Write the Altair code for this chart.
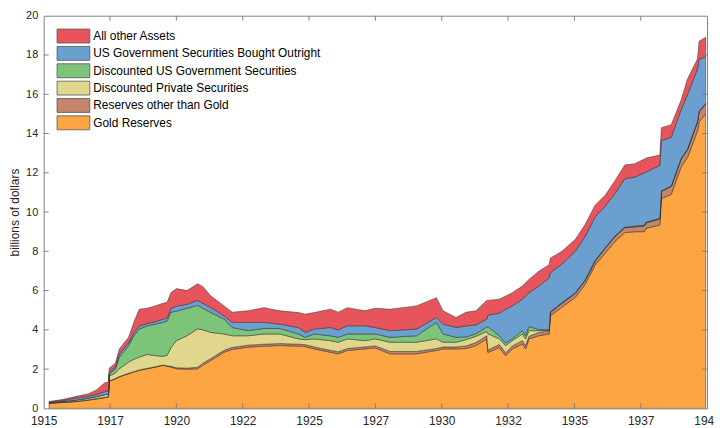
import altair as alt
import pandas as pd

# Decimal year of each reading
years = [1915.20, 1915.70, 1916.20, 1916.70, 1917.00, 1917.30, 1917.44, 1917.47, 1917.70, 1917.85,
         1918.20, 1918.40, 1918.60, 1918.90, 1919.20, 1919.50, 1919.65, 1919.80, 1920.00, 1920.40,
         1920.80, 1921.00, 1921.30, 1921.80, 1922.10, 1922.70, 1923.30, 1923.90, 1924.60, 1924.85,
         1925.20, 1925.80, 1926.10, 1926.45, 1927.10, 1927.50, 1928.05, 1929.05, 1929.80, 1930.05,
         1930.54, 1930.92, 1931.29, 1931.70, 1931.74, 1932.17, 1932.41, 1932.66, 1933.04, 1933.16,
         1933.29, 1933.66, 1934.05, 1934.09, 1934.53, 1935.03, 1935.40, 1935.78, 1936.16, 1936.53,
         1936.90, 1937.28, 1937.64, 1937.70, 1938.22, 1938.28, 1938.65, 1939.02, 1939.27, 1939.64,
         1939.70, 1939.95]

# billions of dollars
gold_reserves = [0.25, 0.30, 0.34, 0.42, 0.48, 0.55, 0.58, 1.38, 1.50, 1.60,
                 1.77, 1.85, 1.94, 2.02, 2.10, 2.19, 2.15, 2.10, 2.02, 2.00,
                 2.02, 2.20, 2.44, 2.86, 3.00, 3.12, 3.17, 3.20, 3.17, 3.15,
                 3.03, 2.86, 2.78, 2.95, 3.03, 3.08, 2.78, 2.78, 2.95, 3.03,
                 3.03, 3.05, 3.20, 3.54, 2.85, 3.10, 2.69, 3.03, 3.28, 3.03,
                 3.54, 3.70, 3.79, 4.71, 5.15, 5.65, 6.30, 7.30, 7.90, 8.50,
                 8.95, 9.00, 9.00, 9.17, 9.34, 10.69, 10.90, 12.29, 12.80, 14.14,
                 14.60, 15.00]
other_reserves = [0.02, 0.02, 0.02, 0.02, 0.02, 0.02, 0.02, 0.02, 0.02, 0.02,
                  0.02, 0.02, 0.02, 0.02, 0.02, 0.02, 0.02, 0.05, 0.05, 0.05,
                  0.08, 0.10, 0.10, 0.10, 0.10, 0.10, 0.10, 0.10, 0.10, 0.10,
                  0.10, 0.10, 0.10, 0.10, 0.10, 0.10, 0.12, 0.12, 0.10, 0.10,
                  0.10, 0.13, 0.15, 0.16, 0.12, 0.15, 0.14, 0.15, 0.17, 0.17,
                  0.13, 0.17, 0.17, 0.17, 0.20, 0.20, 0.20, 0.20, 0.25, 0.25,
                  0.25, 0.25, 0.30, 0.28, 0.31, 0.36, 0.40, 0.41, 0.40, 0.46,
                  0.50, 0.50]
discounted_private = [0.02, 0.03, 0.06, 0.08, 0.10, 0.13, 0.12, 0.25, 0.28, 0.40,
                      0.57, 0.63, 0.65, 0.71, 0.57, 0.44, 0.53, 0.95, 1.38, 1.65,
                      1.95, 1.70, 1.33, 0.83, 0.60, 0.48, 0.52, 0.49, 0.27, 0.25,
                      0.41, 0.49, 0.49, 0.49, 0.32, 0.36, 0.47, 0.47, 0.49, 0.24,
                      0.24, 0.32, 0.32, 0.22, 0.83, 0.29, 0.37, 0.27, 0.34, 0.34,
                      0.29, 0.09, 0.03, 0.02, 0.02, 0.02, 0.02, 0.02, 0.02, 0.02,
                      0.02, 0.02, 0.02, 0.02, 0.02, 0.02, 0.02, 0.02, 0.02, 0.02,
                      0.02, 0.02]
discounted_govt = [0.00, 0.00, 0.00, 0.00, 0.00, 0.00, 0.01, 0.10, 0.20, 0.59,
                   0.84, 1.20, 1.43, 1.45, 1.60, 1.73, 1.75, 1.80, 1.50, 1.40,
                   1.20, 1.10, 1.01, 0.76, 0.42, 0.26, 0.28, 0.28, 0.25, 0.12,
                   0.25, 0.25, 0.25, 0.25, 0.34, 0.25, 0.25, 0.33, 0.84, 0.42,
                   0.25, 0.14, 0.13, 0.23, 0.35, 0.16, 0.13, 0.09, 0.17, 0.16,
                   0.21, 0.05, 0.01, 0.01, 0.01, 0.01, 0.01, 0.01, 0.01, 0.01,
                   0.01, 0.01, 0.01, 0.01, 0.01, 0.01, 0.01, 0.01, 0.01, 0.01,
                   0.01, 0.01]
govt_outright = [0.02, 0.05, 0.10, 0.10, 0.12, 0.15, 0.17, 0.07, 0.10, 0.17,
                 0.13, 0.15, 0.16, 0.12, 0.12, 0.17, 0.15, 0.20, 0.25, 0.20,
                 0.25, 0.25, 0.25, 0.16, 0.26, 0.42, 0.31, 0.22, 0.33, 0.25,
                 0.25, 0.42, 0.38, 0.42, 0.42, 0.33, 0.34, 0.34, 0.25, 0.50,
                 0.50, 0.56, 0.45, 0.40, 0.60, 1.15, 1.72, 1.68, 1.60, 2.02,
                 1.72, 2.22, 2.65, 1.99, 1.97, 2.12, 2.22, 2.22, 2.12, 2.16,
                 2.47, 2.50, 2.67, 2.56, 2.69, 2.56, 2.47, 2.47, 2.77, 2.67,
                 2.67, 2.37]
other_assets = [0.04, 0.05, 0.08, 0.13, 0.23, 0.45, 0.45, 0.23, 0.20, 0.25,
                0.29, 0.55, 0.85, 0.78, 0.81, 0.80, 0.80, 0.80, 0.90, 0.70,
                0.85, 0.85, 0.59, 0.51, 0.52, 0.59, 0.75, 0.68, 0.76, 0.93,
                0.84, 0.93, 0.90, 0.92, 0.76, 0.98, 1.09, 1.18, 1.01, 0.68,
                0.51, 0.70, 0.72, 0.95, 0.75, 0.71, 0.67, 0.67, 0.67, 0.68,
                0.68, 0.76, 0.67, 0.75, 0.65, 0.60, 0.60, 0.60, 0.55, 0.66,
                0.70, 0.68, 0.70, 0.71, 0.53, 0.66, 0.65, 0.50, 0.80, 0.50,
                0.90, 1.00]

series_names = ["All other Assets", "US Government Securities Bought Outright",
                "Discounted US Government Securities", "Discounted Private Securities",
                "Reserves other than Gold", "Gold Reserves"]
series_colors = ["#E8545B", "#6A9FCF", "#7CC47A", "#E0D78C", "#C4856A", "#FDA443"]

x_tick_values = [1915, 1917.5, 1920, 1922.5, 1925, 1927.5, 1930, 1932.5, 1935, 1937.5, 1940]
y_tick_values = [0, 2, 4, 6, 8, 10, 12, 14, 16, 18, 20]

stack_series = [
    ("Gold Reserves", gold_reserves),
    ("Reserves other than Gold", other_reserves),
    ("Discounted Private Securities", discounted_private),
    ("Discounted US Government Securities", discounted_govt),
    ("US Government Securities Bought Outright", govt_outright),
    ("All other Assets", other_assets),
]
rows = []
for k, (name, vals) in enumerate(stack_series):
    for t, v in zip(years, vals):
        rows.append({"year": t, "series": name, "value": v, "stackorder": k})
df = pd.DataFrame(rows)

W, H = 669, 396
FONT = "Liberation Sans"
AX = "#808080"
x_scale = alt.Scale(domain=[1915, 1940], nice=False, zero=False)
y_scale = alt.Scale(domain=[0, 20], nice=False, zero=False)

x_axis = alt.Axis(values=x_tick_values, labelExpr="floor(datum.value)", title=None,
                  domain=False, ticks=False, grid=False, labelFont=FONT,
                  labelFontSize=12, labelColor="#262626", labelPadding=7,
                  labelFlush=False, labelOverlap=False)
y_axis = alt.Axis(values=y_tick_values, title="billions of dollars", domain=False,
                  ticks=False, grid=False, labelFont=FONT, labelFontSize=11,
                  labelColor="#262626", labelPadding=6, labelOverlap=False,
                  labelFlush=False, titleFont=FONT, titleFontSize=12,
                  titleFontWeight="normal", titleColor="#262626", titlePadding=4)

areas = alt.Chart(df).mark_area(
    stroke="#2b2b2b", strokeWidth=0.5, interpolate="linear", clip=True, opacity=1
).encode(
    x=alt.X("year:Q", scale=x_scale, axis=x_axis),
    y=alt.Y("value:Q", stack="zero", scale=y_scale, axis=y_axis),
    color=alt.Color("series:N",
                    scale=alt.Scale(domain=series_names, range=series_colors),
                    legend=alt.Legend(title=None, orient="none", legendX=22.5, legendY=13,
                                      symbolType="M-2.36,-1L2.36,-1L2.36,1L-2.36,1Z",
                                      symbolSize=196, symbolStrokeColor="#555555",
                                      symbolStrokeWidth=0.8, symbolOpacity=1,
                                      labelFont=FONT, labelFontSize=12, labelColor="#000000",
                                      labelOffset=12.5, labelLimit=500, rowPadding=-1.5,
                                      padding=0)),
    order=alt.Order("stackorder:Q", sort="ascending"),
)

xt = pd.DataFrame({"year": x_tick_values[1:-1]})
yt = pd.DataFrame({"value": y_tick_values[1:-1]})
bottom_ticks = alt.Chart(xt).mark_rule(color=AX, strokeWidth=1).encode(
    x=alt.X("year:Q", scale=x_scale, axis=x_axis), y=alt.value(H), y2=alt.value(H - 5))
top_ticks = alt.Chart(xt).mark_rule(color=AX, strokeWidth=1).encode(
    x=alt.X("year:Q", scale=x_scale, axis=x_axis), y=alt.value(0), y2=alt.value(5))
left_ticks = alt.Chart(yt).mark_rule(color=AX, strokeWidth=1).encode(
    y=alt.Y("value:Q", scale=y_scale, axis=y_axis), x=alt.value(0), x2=alt.value(5))
right_ticks = alt.Chart(yt).mark_rule(color=AX, strokeWidth=1).encode(
    y=alt.Y("value:Q", scale=y_scale, axis=y_axis), x=alt.value(W - 5), x2=alt.value(W))

chart = alt.layer(areas, bottom_ticks, top_ticks, left_ticks, right_ticks).properties(
    width=W, height=H,
    autosize=alt.AutoSizeParams(type="none"),
    padding={"left": 36, "top": 6, "right": 7, "bottom": 18},
    background="white",
).configure_view(stroke=AX, strokeWidth=1)

chart.save("out.html", embed_options={"renderer": "svg", "actions": False})
